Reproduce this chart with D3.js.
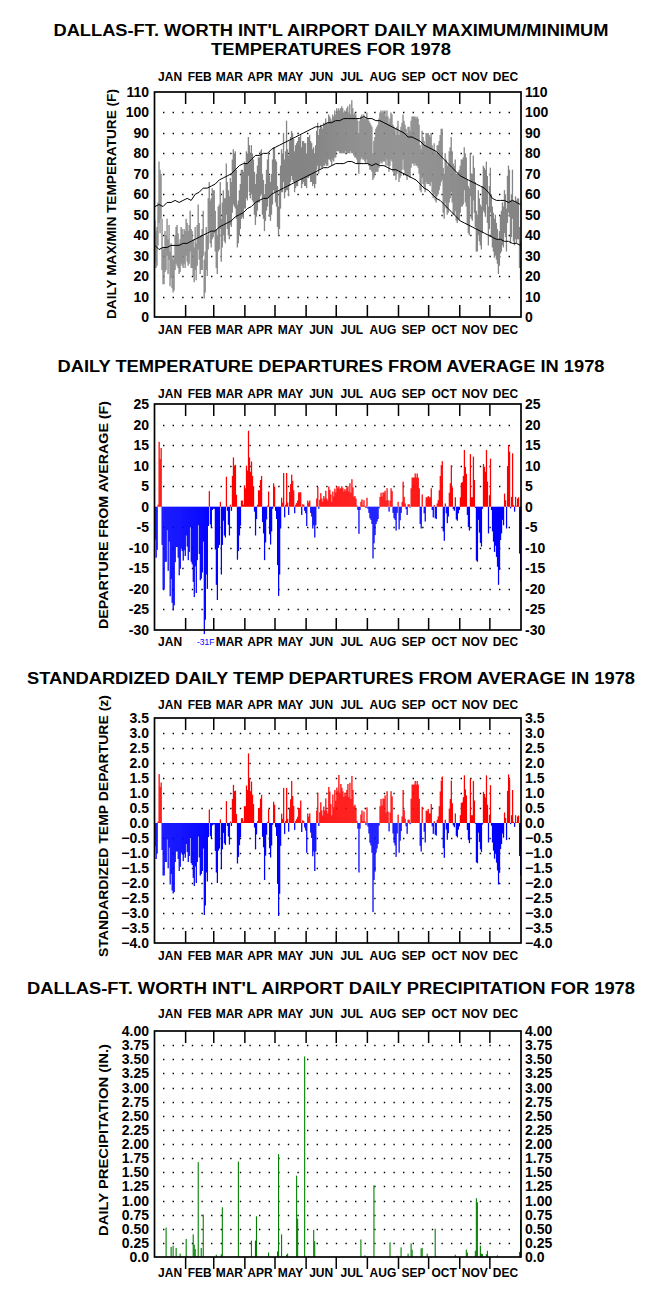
<!DOCTYPE html>
<html>
<head>
<meta charset="utf-8">
<script src="https://cdn.jsdelivr.net/npm/d3@7"></script>
<style>
  body { margin: 0; background: #fff; }
  svg { display: block; font-family: "Liberation Sans", Arial, sans-serif; font-weight: bold; }
</style>
</head>
<body>
<svg id="chart" width="662" height="1302"></svg>
<script>
// month names and first day of each month (day index, 0 = Jan 1)
const monthNames = ["JAN","FEB","MAR","APR","MAY","JUN","JUL","AUG","SEP","OCT","NOV","DEC"];
const monthStarts = [0,31,59,90,120,151,181,212,243,273,304,334,365];

// daily max / min temperatures 1978 (F), one line per month
const tMax = [
 47,42,44,56,76,72,70,48,33,34,42,40,48,38,45,32,36,30,28,30,40,44,45,41,36,38,44,43,40,43,42,
 48,46,42,45,52,43,42,38,34,44,36,45,55,46,40,40,43,52,28,32,44,40,58,66,57,58,63,62,
 62,52,43,40,54,55,66,48,56,62,58,58,75,66,62,59,68,66,77,82,80,81,72,55,57,62,65,72,72,71,76,
 75,81,80,88,84,80,84,80,77,71,65,70,74,78,78,81,82,70,67,60,65,72,77,80,69,66,70,77,83,83,
 77,76,64,54,62,74,82,80,90,77,81,96,82,79,86,88,91,90,87,81,84,85,86,88,88,89,83,86,86,85,85,
 80,88,88,89,86,85,82,83,80,84,91,95,89,92,94,93,92,95,94,97,95,95,99,98,97,96,99,98,101,99,
 102,101,102,101,102,103,102,100,101,100,102,103,100,104,99,106,102,99,100,99,97,96,90,96,98,99,97,99,97,97,100,
 97,96,95,94,93,80,86,88,92,93,94,97,100,101,100,101,100,101,98,101,98,95,97,100,99,94,93,92,89,93,96,
 89,91,93,95,99,96,94,92,90,93,93,91,96,98,98,98,98,97,98,97,94,84,82,91,88,86,84,90,90,90,
 89,88,90,84,82,85,81,80,84,84,86,89,92,92,73,70,80,77,74,75,81,83,88,81,75,74,77,70,70,71,72,
 74,77,77,78,83,80,78,67,64,63,80,70,70,79,73,66,52,50,62,58,55,54,64,74,73,72,76,69,54,64,
 73,60,54,51,48,50,46,43,38,42,50,52,56,54,62,60,53,69,74,72,57,60,72,57,56,59,57,58,58,44,37
];
const tMin = [
 27,24,25,35,46,41,48,23,16,16,22,23,30,21,28,15,19,14,12,13,23,26,25,24,21,22,26,25,24,26,24,
 30,27,25,26,32,24,24,20,17,23,18,25,33,28,21,23,23,30,9,12,23,20,33,42,36,34,38,39,
 41,32,24,21,32,33,43,27,34,40,37,36,50,43,40,38,45,44,51,55,54,53,48,34,36,40,43,48,49,48,53,
 53,58,57,69,61,58,60,57,56,50,45,49,52,56,56,59,60,50,48,42,47,52,54,58,49,47,50,55,62,61,
 56,54,44,40,43,53,61,61,66,58,61,62,62,59,64,66,69,67,66,61,63,64,64,67,67,67,63,65,66,64,64,
 63,68,68,69,66,66,64,65,63,65,72,74,70,72,74,73,73,74,74,75,74,74,77,77,76,74,77,76,78,78,
 81,81,81,80,80,80,80,80,80,81,80,80,80,80,81,80,80,79,78,78,77,75,70,75,77,78,77,77,76,75,77,
 75,74,72,72,71,67,68,70,71,71,71,73,75,76,75,76,76,76,74,77,74,71,74,77,76,71,69,69,67,70,72,
 66,68,69,72,77,72,70,69,67,69,69,68,73,75,75,74,75,74,74,73,70,62,61,68,65,63,61,66,65,65,
 65,64,66,61,58,60,57,56,59,60,62,64,66,67,51,48,56,53,50,51,56,58,61,56,50,50,52,47,46,48,47,
 51,54,54,55,62,56,54,45,41,40,59,48,47,57,51,44,32,32,40,37,35,33,41,52,51,49,55,46,35,43,
 51,39,34,32,29,30,28,26,21,25,31,32,35,34,41,39,32,46,51,49,36,39,48,37,35,38,36,38,38,24,18
];

// normal max / min, read every 4 days (day 0, 4, 8, ... 364)
const normDays = d3.range(0, 365, 4);
const normMax = [54,55,54,56,56,57,56,57,58,57,60,61,63,63,64,65,67,68,69,70,72,74,75,75,77,79,79,80,80,82,
 83,84,85,86,87,88,89,90,91,92,93,93,94,95,95,96,96,97,97,97,97,97,98,97,97,96,96,95,94,93,
 92,91,90,88,88,87,86,84,83,82,81,79,77,75,73,71,69,68,67,66,65,64,63,61,58,57,57,57,56,57,56,55];
const normMin = [35,33,34,34,35,35,35,36,36,37,38,39,40,41,42,42,44,45,46,47,49,50,51,53,54,56,57,58,58,60,
 61,62,63,64,65,66,67,68,69,70,71,72,73,73,74,75,75,75,76,76,75,75,75,75,74,75,74,74,73,72,
 72,71,70,69,68,67,65,63,62,60,58,57,55,53,51,49,47,46,45,44,43,42,41,40,39,38,38,37,37,36,36,35];

// daily departure from average (F)
const depart = [
 -8,-12.4,-10.5,0.5,15.8,11.6,14.3,-9.3,-20.2,-20,-13.4,-13.4,-5.7,-15.6,-8.5,-21.8,-17.6,-23.4,-25.2,-24,-13.5,-9.8,-9.8,-12.4,-16.7,-15.1,-10.2,-10.8,-13.1,-10.6,-12,
 -7,-9.7,-13,-11,-5,-13.4,-14,-18.3,-22,-14.5,-21,-13,-4.5,-11.5,-17.9,-17.5,-16,-8.5,-31,-27.5,-16.5,-20,-4.7,3.8,-4.3,-5.2,-0.8,-0.5,
 -0.5,-10.4,-19,-22.7,-10,-9.3,1.2,-16.5,-9.3,-3.4,-7,-7.5,7.3,-1,-4.4,-7,0.5,-1,7.5,12,10,10.2,2.9,-12.9,-10.8,-7,-4.6,1.5,1.5,0.5,5.2,
 4.5,10,8.8,18.5,12,8.5,11,7.5,5,-1.2,-7,-3,0.5,4,4,6.5,7.5,-3.7,-6.5,-13,-8.7,-3.1,0.3,3.7,-6.7,-9.2,-6,-0.5,5.7,4.9,
 -1,-3,-14.2,-21.7,-16.5,-5.3,2.2,1,8.2,-2.6,0.5,8.2,1,-2,3.6,5.5,7.8,6.3,4,-1.6,0.5,0.9,1.5,3.5,3.5,3.5,-2,0.6,0.5,-1,-1.6,
 -4.7,1.5,1,1.5,-1.5,-2.4,-5.3,-4.5,-7.5,-4.5,2,4.8,-0.5,1.7,3.3,2,1.2,2.6,2,3.9,2,1.5,4.9,4.1,3,1.2,3.7,2.5,4.4,3.5,
 5,4.5,5,4.3,4.6,5,4.5,3.7,4.3,3.9,4.7,5,3.7,5.7,3.4,6.7,4.7,2.4,2.6,2,0.3,-0.8,-6.6,-0.8,1.2,1.8,0.3,1.6,0.2,-0.3,2.2,
 -0.5,-1.5,-2.8,-3.2,-4.2,-12.6,-8.9,-6.9,-4.2,-3.6,-3,-0.4,2.4,3.4,2.5,3.5,3.4,3.9,1.5,4.5,1.6,-1.2,1.5,4.5,3.8,-1.5,-2.8,-3.2,-5.8,-1.5,1.2,
 -5.5,-3.3,-1.5,1.2,6.1,2.4,0.8,-0.6,-2,0.6,0.6,-0.2,4.5,7.1,7.1,7.1,8.1,7.1,8.1,7.1,4.5,-4.2,-5.3,3,0,-1.6,-3.6,2.3,2.3,2.6,
 2.3,2.3,4.5,-0.8,-2.6,0.4,-2.8,-3,0.8,1.6,4,7.5,10.1,11.1,-6,-8.3,0.8,-1.6,-4,-2.4,3.4,5.7,10.1,4.7,-0.6,-1,2.3,-3.1,-3.4,-1.6,-0.8,
 2.3,5.8,6,7.5,13.8,9.7,8,-2,-4.9,-5.8,12.8,2.3,2.3,12.2,6.5,-0.3,-13.1,-13.4,-3.2,-6.3,-8.8,-9.7,-0.5,10.4,9.7,8.5,13.8,6.1,-6.5,2.8,
 11.7,-0.8,-6,-8.5,-11,-9.5,-12.2,-14.6,-19,-15.4,-8.1,-6.5,-3.2,-4.5,3.2,1.6,-5.3,9.9,15,13.4,-0.4,2.4,13,0.4,-1.2,2.4,0.2,2,2.3,-11.4,-18.2
];

// standardized daily departure (z)
const zScore = [
 -0.78,-1.2,-1.02,0.05,1.63,1.2,1.35,-0.9,-1.75,-1.75,-1.3,-1.3,-0.55,-1.51,-0.82,-2.05,-1.7,-2.25,-2.35,-2.3,-1.3,-0.95,-0.95,-1.2,-1.6,-1.46,-0.99,-1.05,-1.27,-1.03,-1.16,
 -0.7,-0.97,-1.3,-1.1,-0.5,-1.34,-1.4,-1.83,-2.1,-1.45,-2,-1.3,-0.45,-1.15,-1.75,-1.7,-1.6,-0.85,-3.07,-2.75,-1.65,-1.95,-0.47,0.45,-0.43,-0.52,-0.08,-0.05,
 -0.05,-0.93,-1.65,-2,-0.92,-0.85,0.12,-1.5,-0.88,-0.33,-0.68,-0.73,0.73,-0.1,-0.45,-0.72,0.05,-0.1,0.8,1.27,1.06,1.08,0.3,-1.35,-1.13,-0.74,-0.48,0.16,0.16,0.05,0.56,
 0.56,1.25,1.1,2.32,1.5,1.06,1.38,0.94,0.63,-0.15,-0.88,-0.38,0.06,0.5,0.5,0.81,0.94,-0.46,-0.81,-1.9,-1.09,-0.39,0.04,0.46,-0.84,-1.15,-0.75,-0.06,0.71,0.61,
 -0.14,-0.43,-2.03,-3.1,-2.36,-0.76,0.31,0.14,1.17,-0.37,0.07,1.17,0.14,-0.29,0.51,0.79,1.4,0.9,0.57,-0.23,0.07,0.13,0.21,0.5,0.5,0.75,-0.3,0.09,0.07,-0.15,-0.25,
 -0.99,0.32,0.21,0.32,-0.32,-0.5,-1.11,-0.95,-1.6,-0.95,0.42,1.01,-0.1,0.36,0.69,0.42,0.25,0.55,0.42,0.82,0.42,0.32,1.2,1.05,0.63,0.25,0.95,0.53,1.1,0.74,
 1.18,1.06,1.6,1.01,1.3,1.18,1.06,0.87,1.01,0.92,1.1,1.3,0.87,1.34,0.8,1.57,1.1,0.56,0.61,0.47,0.07,-0.19,-1.65,-0.19,0.28,0.42,0.07,0.38,0.05,-0.07,0.52,
 -0.12,-0.35,-0.66,-0.75,-0.99,-2.97,-1.9,-1.62,-0.99,-0.85,-0.7,-0.09,0.56,0.8,0.59,0.82,0.8,0.92,0.35,1.06,0.38,-0.28,0.35,1.06,0.89,-0.35,-0.66,-0.75,-1.13,-0.35,0.28,
 -0.99,-0.59,-0.27,0.22,1.1,0.43,0.14,-0.11,-0.36,0.11,0.11,-0.04,0.81,1.28,1.28,1.28,1.4,1.28,1.4,1.28,0.81,-0.76,-0.95,0.54,0,-0.29,-0.65,0.41,0.41,0.47,
 0.32,0.32,0.63,-0.11,-0.36,0.06,-0.39,-0.42,0.11,0.22,0.56,1.05,1.41,1.55,-0.84,-1.16,0.11,-0.22,-0.56,-0.34,0.48,0.8,1.41,0.66,-0.08,-0.14,0.32,-0.43,-0.48,-0.22,-0.11,
 0.26,0.67,0.69,0.86,1.59,1.12,0.92,-0.23,-0.56,-0.67,1.47,0.26,0.26,1.4,0.75,-0.03,-1.31,-1.34,-0.32,-0.63,-0.88,-0.97,-0.05,1.04,0.97,0.85,1.59,0.61,-0.65,0.28,
 1.26,-0.09,-0.65,-0.92,-1.19,-1.03,-1.32,-1.58,-2.05,-1.66,-0.87,-0.7,-0.35,-0.49,0.35,0.17,-0.57,1.07,1.62,1.45,-0.04,0.26,1.1,0.04,-0.13,0.26,0.02,0.22,0.25,-1.1,-1.75
];

// days with measurable precipitation and amounts (in.)
const precipDays = [11,16,18,21,24,25,31,32,38,39,40,42,43,46,48,61,66,67,80,83,96,100,101,113,122,123,126,131,132,141,142,149,153,158,159,
 205,209,218,234,241,242,245,252,255,256,265,266,271,279,280,299,310,311,319,320,321,324,325,326,330,331,341,363,364];
const precipAmt = [0.52,0.18,0.2,0.16,0.02,0.06,0.32,0.02,0.4,0.22,0.14,0.02,1.68,0.16,0.75,0.04,0.05,0.88,0.01,1.69,0.29,0.29,0.72,0.08,0.1,1.82,0.4,0.04,0.06,1.44,0.68,3.55,0.02,0.48,0.28,
 0.31,0.03,1.27,0.26,0.02,0.02,0.17,0.06,0.24,0.13,0.15,0.16,0.06,0.5,0.02,0.04,0.13,0.08,0.11,1.04,0.97,0.2,0.06,0.05,0.05,0.11,0.03,0.09,0.66];

// tick values for each panel
const tempTicks = d3.range(0, 111, 10);
const departTicks = d3.range(-30, 26, 5);
const zTicks = d3.range(-4, 3.51, 0.5);
const precipTicks = d3.range(0, 4.01, 0.25);

const svg = d3.select("#chart");
const x = d3.scaleLinear().domain([0, 365]).range([154.5, 521]);
const frameL = 154.5, frameR = 521;

function drawPanel(p) {
	const g = svg.append("g");
	const y = d3.scaleLinear().domain(p.domain).range([p.bottom, p.top]);

	// title lines
	p.title.forEach(function(t, i) {
		g.append("text")
			.attr("x", 331).attr("y", p.titleY + i * 19)
			.attr("text-anchor", "middle")
			.attr("font-size", 16)
			.attr("textLength", p.titleLen[i])
			.attr("lengthAdjust", "spacingAndGlyphs")
			.text(t);
	});

	// dotted grid lines
	g.selectAll("line.grid")
		.data(p.grid)
		.join("line")
		.attr("x1", 163).attr("x2", 518)
		.attr("y1", function(d) { return Math.round(y(d)) + 0.5; })
		.attr("y2", function(d) { return Math.round(y(d)) + 0.5; })
		.attr("stroke", "#000")
		.attr("stroke-width", 1.4)
		.attr("stroke-dasharray", "1.4,8.2");

	// the data marks
	p.marks(g, y);

	// frame
	g.append("rect")
		.attr("x", frameL).attr("y", p.top)
		.attr("width", frameR - frameL).attr("height", p.bottom - p.top)
		.attr("fill", "none").attr("stroke", "#000").attr("stroke-width", 1.7);

	// month ticks
	const inner = monthStarts.slice(1, 12);
	g.selectAll("line.mt")
		.data(inner)
		.join("line")
		.attr("x1", function(d) { return x(d); }).attr("x2", function(d) { return x(d); })
		.attr("y1", p.top).attr("y2", p.top + 12)
		.attr("stroke", "#000").attr("stroke-width", 1.5);
	g.selectAll("line.mb")
		.data(inner)
		.join("line")
		.attr("x1", function(d) { return x(d); }).attr("x2", function(d) { return x(d); })
		.attr("y1", p.bottom).attr("y2", p.bottomTicksOut ? p.bottom + 12 : p.bottom - 12)
		.attr("stroke", "#000").attr("stroke-width", 1.5);

	// month labels top and bottom
	const mid = monthNames.map(function(m, i) { return (monthStarts[i] + monthStarts[i + 1]) / 2; });
	[p.top - p.topLabelGap, p.bottom + p.bottomLabelGap].forEach(function(ly, k) {
		g.selectAll(null)
			.data(monthNames)
			.join("text")
			.attr("x", function(d, i) { return x(mid[i]); })
			.attr("y", ly)
			.attr("text-anchor", "middle")
			.attr("font-size", 12)
			.text(function(d, i) { return (k === 1 && p.skipBottom === i) ? "" : d; });
	});

	// y tick labels, both sides
	g.selectAll("text.yl")
		.data(p.ticks)
		.join("text")
		.attr("x", 149).attr("y", function(d) { return y(d); })
		.attr("dy", "0.36em")
		.attr("text-anchor", "end")
		.attr("font-size", 14)
		.text(p.fmt);
	g.selectAll("text.yr")
		.data(p.ticks)
		.join("text")
		.attr("x", 525).attr("y", function(d) { return y(d); })
		.attr("dy", "0.36em")
		.attr("font-size", 14)
		.text(p.fmt);

	// vertical axis title
	g.append("text")
		.attr("transform", "translate(" + p.yTitleX + "," + p.yTitleY + ") rotate(-90)")
		.attr("text-anchor", "middle")
		.attr("font-size", 13.5)
		.attr("textLength", p.yTitleLen)
		.attr("lengthAdjust", "spacingAndGlyphs")
		.text(p.yTitle);
	return y;
}

// panel 1: daily max/min temperatures
drawPanel({
	top: 92, bottom: 317, domain: [0, 110],
	title: ["DALLAS-FT. WORTH INT'L AIRPORT DAILY MAXIMUM/MINIMUM", "TEMPERATURES FOR 1978"],
	titleY: 36, titleLen: [555, 240],
	grid: d3.range(10, 101, 10), ticks: tempTicks, fmt: function(d) { return d; },
	topLabelGap: 11, bottomLabelGap: 17,
	yTitle: "DAILY MAX/MIN TEMPERATURE (F)", yTitleX: 116, yTitleY: 204, yTitleLen: 230,
	marks: function(g, y) {
		g.selectAll("line.day")
			.data(tMax)
			.join("line")
			.attr("x1", function(d, i) { return x(i) + 0.5; })
			.attr("x2", function(d, i) { return x(i) + 0.5; })
			.attr("y1", function(d) { return y(d); })
			.attr("y2", function(d, i) { return y(tMin[i]); })
			.attr("stroke", "#858585").attr("stroke-width", 1.3);
		const line = d3.line()
			.x(function(d, i) { return x(normDays[i]) + 0.5; })
			.y(function(d) { return y(d); });
		[normMax, normMin].forEach(function(s) {
			g.append("path").attr("d", line(s))
				.attr("fill", "none").attr("stroke", "#000").attr("stroke-width", 1);
		});
	}
});

// panel 2: departures
drawPanel({
	top: 404, bottom: 630, domain: [-30, 25],
	title: ["DAILY TEMPERATURE DEPARTURES FROM AVERAGE IN 1978"],
	titleY: 372, titleLen: [547],
	grid: [20, 15, 10, 5, -5, -10, -15, -20, -25], ticks: departTicks, fmt: function(d) { return d; },
	topLabelGap: 6, bottomLabelGap: 16, skipBottom: 1,
	yTitle: "DEPARTURE FROM AVERAGE (F)", yTitleX: 108, yTitleY: 515, yTitleLen: 228,
	marks: function(g, y) {
		g.selectAll("rect.dep")
			.data(depart)
			.join("rect")
			.attr("x", function(d, i) { return x(i); })
			.attr("width", function(d, i) { return x(i + 1) - x(i) + 0.25; })
			.attr("y", function(d) { return Math.min(y(d), y(0)); })
			.attr("height", function(d) { return Math.abs(y(d) - y(0)); })
			.attr("fill", function(d) { return d >= 0 ? "#ff0000" : "#0000ff"; });
		// label for the record departure in Feb
		g.append("text")
			.attr("x", x(49) + 2).attr("y", 645)
			.attr("text-anchor", "middle")
			.attr("font-size", 8.5).attr("font-weight", "normal")
			.attr("fill", "#0000ff")
			.text("-31F");
	}
});

// panel 3: standardized departures
drawPanel({
	top: 718, bottom: 943, domain: [-4, 3.5],
	title: ["STANDARDIZED DAILY TEMP DEPARTURES FROM AVERAGE IN 1978"],
	titleY: 684, titleLen: [608],
	grid: [3, 2.5, 2, 1.5, 1, 0.5, -0.5, -1, -1.5, -2, -2.5, -3, -3.5], ticks: zTicks, fmt: d3.format(".1f"),
	topLabelGap: 9.5, bottomLabelGap: 17,
	yTitle: "STANDARDIZED TEMP DEPARTURE (z)", yTitleX: 108, yTitleY: 826, yTitleLen: 262,
	marks: function(g, y) {
		g.selectAll("rect.z")
			.data(zScore)
			.join("rect")
			.attr("x", function(d, i) { return x(i); })
			.attr("width", function(d, i) { return x(i + 1) - x(i) + 0.25; })
			.attr("y", function(d) { return Math.min(y(d), y(0)); })
			.attr("height", function(d) { return Math.abs(y(d) - y(0)); })
			.attr("fill", function(d) { return d >= 0 ? "#ff0000" : "#0000ff"; });
	}
});

// panel 4: precipitation
drawPanel({
	top: 1031, bottom: 1257, domain: [0, 4],
	title: ["DALLAS-FT. WORTH INT'L AIRPORT DAILY PRECIPITATION FOR 1978"],
	titleY: 994, titleLen: [608],
	grid: d3.range(0.25, 3.8, 0.25), ticks: precipTicks,
	fmt: function(d) { return d === 0 ? "0.0" : d3.format(".2f")(d); },
	topLabelGap: 13.5, bottomLabelGap: 20, bottomTicksOut: true,
	yTitle: "DAILY PRECIPITATION (IN.)", yTitleX: 108, yTitleY: 1140, yTitleLen: 192,
	marks: function(g, y) {
		g.selectAll("rect.pr")
			.data(precipAmt)
			.join("rect")
			.attr("x", function(d, i) { return x(precipDays[i]); })
			.attr("width", 1.1)
			.attr("y", function(d) { return y(d); })
			.attr("height", function(d) { return y(0) - y(d); })
			.attr("fill", "#008000");
	}
});
</script>
</body>
</html>
